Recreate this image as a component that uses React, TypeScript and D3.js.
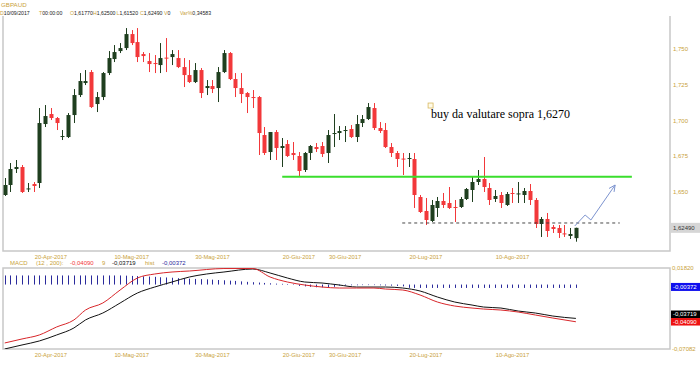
import React from 'react';
import * as d3 from 'd3';

// GBPAUD daily candles, 10-Apr-2017 onward
const opens = [
  1.6479, 1.6549, 1.6661, 1.6675, 1.6521, 1.6556, 1.6563, 1.6976, 1.7046, 1.7018,
  1.6885, 1.6885, 1.7039, 1.7179, 1.7263, 1.7340, 1.7116, 1.7165, 1.7333, 1.7431,
  1.7487, 1.7508, 1.7606, 1.7550, 1.7466, 1.7417, 1.7403, 1.7389, 1.7441, 1.7445,
  1.7438, 1.7375, 1.7319, 1.7270, 1.7354, 1.7228, 1.7242, 1.7228, 1.7340, 1.7473,
  1.7291, 1.7228, 1.7193, 1.7165, 1.7165, 1.6899, 1.6780, 1.6920, 1.6808, 1.6836,
  1.6773, 1.6752, 1.6654, 1.6773, 1.6815, 1.6822, 1.6773, 1.6906, 1.6913, 1.6931,
  1.6941, 1.6885, 1.6983, 1.7011, 1.7088, 1.6948, 1.6934, 1.6815, 1.6773, 1.6734,
  1.6731, 1.6731, 1.6465, 1.6367, 1.6297, 1.6388, 1.6437, 1.6423, 1.6395, 1.6395,
  1.6451, 1.6514, 1.6570, 1.6591, 1.6528, 1.6451, 1.6479, 1.6409, 1.6493, 1.6486,
  1.6479, 1.6507, 1.6444, 1.6276, 1.6311, 1.6255, 1.6248, 1.6210, 1.6192, 1.6177,
];
const highs = [
  1.6598, 1.6703, 1.6724, 1.6689, 1.6563, 1.6570, 1.7088, 1.7109, 1.7088, 1.7025,
  1.6934, 1.7053, 1.7221, 1.7333, 1.7354, 1.7354, 1.7200, 1.7340, 1.7487, 1.7529,
  1.7543, 1.7648, 1.7634, 1.7648, 1.7480, 1.7473, 1.7459, 1.7543, 1.7578, 1.7494,
  1.7494, 1.7438, 1.7424, 1.7403, 1.7368, 1.7284, 1.7284, 1.7375, 1.7494, 1.7480,
  1.7333, 1.7333, 1.7200, 1.7214, 1.7172, 1.6955, 1.6920, 1.6934, 1.6878, 1.6864,
  1.6850, 1.6780, 1.6780, 1.6829, 1.6843, 1.6850, 1.6934, 1.7046, 1.6962, 1.6962,
  1.6969, 1.7039, 1.7039, 1.7123, 1.7123, 1.6990, 1.6983, 1.6843, 1.6787, 1.6773,
  1.6773, 1.6773, 1.6479, 1.6458, 1.6444, 1.6465, 1.6493, 1.6535, 1.6444, 1.6465,
  1.6528, 1.6605, 1.6654, 1.6745, 1.6563, 1.6514, 1.6500, 1.6500, 1.6528, 1.6570,
  1.6528, 1.6556, 1.6458, 1.6325, 1.6353, 1.6269, 1.6269, 1.6269, 1.6248, 1.6250,
];
const lows = [
  1.6472, 1.6500, 1.6633, 1.6493, 1.6500, 1.6500, 1.6528, 1.6955, 1.7004, 1.6934,
  1.6864, 1.6878, 1.6983, 1.7165, 1.7249, 1.7088, 1.7060, 1.7144, 1.7319, 1.7410,
  1.7473, 1.7494, 1.7529, 1.7410, 1.7410, 1.7340, 1.7333, 1.7333, 1.7340, 1.7389,
  1.7368, 1.7235, 1.7263, 1.7263, 1.7158, 1.7179, 1.7193, 1.7130, 1.7333, 1.7284,
  1.7165, 1.7123, 1.7053, 1.7088, 1.6759, 1.6759, 1.6724, 1.6724, 1.6675, 1.6745,
  1.6724, 1.6612, 1.6640, 1.6724, 1.6780, 1.6745, 1.6703, 1.6815, 1.6864, 1.6850,
  1.6878, 1.6850, 1.6955, 1.7004, 1.6934, 1.6913, 1.6808, 1.6745, 1.6675, 1.6619,
  1.6675, 1.6388, 1.6353, 1.6269, 1.6290, 1.6325, 1.6388, 1.6381, 1.6290, 1.6388,
  1.6444, 1.6430, 1.6549, 1.6500, 1.6409, 1.6430, 1.6388, 1.6402, 1.6423, 1.6423,
  1.6423, 1.6409, 1.6248, 1.6185, 1.6185, 1.6213, 1.6178, 1.6185, 1.6171, 1.6152,
];
const closes = [
  1.6549, 1.6661, 1.6675, 1.6500, 1.6525, 1.6542, 1.6983, 1.7032, 1.7018, 1.6983,
  1.6892, 1.7039, 1.7179, 1.7277, 1.7277, 1.7095, 1.7165, 1.7333, 1.7438, 1.7480,
  1.7508, 1.7606, 1.7543, 1.7445, 1.7452, 1.7396, 1.7400, 1.7438, 1.7435, 1.7466,
  1.7375, 1.7319, 1.7270, 1.7354, 1.7193, 1.7242, 1.7221, 1.7340, 1.7473, 1.7291,
  1.7228, 1.7186, 1.7165, 1.7158, 1.6913, 1.6773, 1.6920, 1.6808, 1.6822, 1.6752,
  1.6759, 1.6647, 1.6773, 1.6822, 1.6801, 1.6766, 1.6899, 1.6913, 1.6927, 1.6934,
  1.6885, 1.6976, 1.7011, 1.7095, 1.6948, 1.6927, 1.6815, 1.6773, 1.6731, 1.6731,
  1.6738, 1.6479, 1.6360, 1.6304, 1.6409, 1.6437, 1.6409, 1.6388, 1.6392, 1.6451,
  1.6521, 1.6570, 1.6591, 1.6535, 1.6444, 1.6472, 1.6423, 1.6486, 1.6486, 1.6490,
  1.6507, 1.6444, 1.6276, 1.6311, 1.6227, 1.6241, 1.6213, 1.6206, 1.6206, 1.6249,
];

// MACD histogram, one bar per candle
const histValues = [
  0.0100, 0.0100, 0.0100, 0.0100, 0.0100, 0.0100, 0.0100, 0.0100, 0.0100, 0.0100,
  0.0100, 0.0100, 0.0100, 0.0100, 0.0100, 0.0100, 0.0100, 0.0100, 0.0100, 0.0100,
  0.0100, 0.0098, 0.0095, 0.0093, 0.0090, 0.0088, 0.0085, 0.0080, 0.0078, 0.0075,
  0.0070, 0.0068, 0.0065, 0.0062, 0.0060, 0.0057, 0.0054, 0.0050, 0.0047, 0.0043,
  0.0040, 0.0035, 0.0030, 0.0026, 0.0022, 0.0018, 0.0014, 0.0010, 0.0008, 0.0006,
  0.0005, -0.0015, -0.0020, -0.0025, -0.0030, -0.0030, -0.0028, -0.0025, -0.0012, -0.0010,
  -0.0008, -0.0008, -0.0006, -0.0006, -0.0006, -0.0008, -0.0010, -0.0012, -0.0015, -0.0020,
  -0.0036, -0.0037, -0.0037, -0.0037, -0.0037, -0.0037, -0.0037, -0.0037, -0.0037, -0.0037,
  -0.0037, -0.0037, -0.0037, -0.0037, -0.0037, -0.0037, -0.0037, -0.0037, -0.0037, -0.0037,
  -0.0037, -0.0037, -0.0037, -0.0037, -0.0037, -0.0037, -0.0037, -0.0037, -0.0037, -0.0037,
];

// MACD (red) and signal (black) lines: [candle index, value]
const macdPoints: [number, number][] = [
  [0, -0.0642], [3, -0.0598], [6, -0.0554], [9, -0.0466], [12, -0.0389], [14, -0.0280],
  [17, -0.0203], [20, -0.0060], [23, 0.0072], [26, 0.0116], [29, 0.0138], [32, 0.0149],
  [38, 0.0176], [43, 0.0176], [46, 0.0083], [49, 0.0028], [52, -0.0005], [55, -0.0027],
  [58, -0.0038], [61, -0.0038], [64, -0.0038], [66, -0.0049], [69, -0.0060], [72, -0.0115],
  [75, -0.0192], [78, -0.0236], [81, -0.0258], [83, -0.0269], [86, -0.0280], [89, -0.0302],
  [92, -0.0335], [95, -0.0368], [99, -0.0409],
];
const signalPoints: [number, number][] = [
  [0, -0.0708], [3, -0.0664], [6, -0.0620], [9, -0.0554], [12, -0.0477], [14, -0.0389],
  [17, -0.0313], [20, -0.0203], [23, -0.0093], [26, -0.0027], [29, 0.0028], [32, 0.0083],
  [35, 0.0116], [38, 0.0138], [43, 0.0171], [46, 0.0127], [49, 0.0072], [52, 0.0028],
  [55, 0.0017], [58, -0.0005], [61, -0.0027], [64, -0.0027], [66, -0.0027], [69, -0.0038],
  [72, -0.0071], [75, -0.0137], [78, -0.0192], [81, -0.0225], [83, -0.0247], [86, -0.0258],
  [89, -0.0291], [92, -0.0313], [95, -0.0346], [99, -0.03719],
];

const dateTicks = ['2017-04-20', '2017-05-10', '2017-05-30', '2017-06-20', '2017-06-30', '2017-07-20', '2017-08-10'];
const priceTicks = [1.65, 1.675, 1.7, 1.725, 1.75];
const lastPrice = 1.6249;
const macdExtent = [-0.07082, 0.0182];
const macdValue = -0.0409;
const signalValue = -0.03719;
const histValue = -0.00372;

// drawn annotations, in candle index / price
const greenLine = { from: 48.1, to: 108.7, price: 1.6607 };
const dashedLine = { from: 68.9, to: 106.6, price: 1.6283 };
const arrowPath: [number, number][] = [[98.8, 1.6262], [100.6, 1.6339], [101.6, 1.6304], [105.8, 1.6549]];
const note = { index: 73.9, price: 1.7018, text: 'buy da valutare sopra 1,6270' };

const headerFields = [
  ['D', '10/09/2017'], ['T', '00:00:00'], ['O', '1,61770'], ['H', '1,62500'],
  ['L', '1,61520'], ['C', '1,62490'], ['V', '0'], ['Var%', '0,34583'],
];
const headerX = [0, 39, 70, 93, 116.5, 140, 164, 180];

const gold = '#c9a23a';
const green = '#1f3f1f';
const red = '#f2383a';
const navy = '#2b2b9c';
const frame = '#c8c8c8';

const itLocale = d3.timeFormatLocale({
  dateTime: '%A %e %B %Y, %X', date: '%d/%m/%Y', time: '%H:%M:%S', periods: ['AM', 'PM'],
  days: ['Domenica', 'Lunedì', 'Martedì', 'Mercoledì', 'Giovedì', 'Venerdì', 'Sabato'],
  shortDays: ['Dom', 'Lun', 'Mar', 'Mer', 'Gio', 'Ven', 'Sab'],
  months: ['Gennaio', 'Febbraio', 'Marzo', 'Aprile', 'Maggio', 'Giugno', 'Luglio', 'Agosto', 'Settembre', 'Ottobre', 'Novembre', 'Dicembre'],
  shortMonths: ['Gen', 'Feb', 'Mar', 'Apr', 'Mag', 'Giu', 'Lug', 'Ago', 'Set', 'Ott', 'Nov', 'Dic'],
});
const numLocale = d3.formatLocale({ decimal: ',', thousands: '.', grouping: [3], currency: ['€', ''], minus: '-' });
const fmt3 = numLocale.format('.3f');
const fmt5 = numLocale.format('.5f');
const fmtDate = itLocale.format('%d-%b-%Y');
const keyDate = d3.timeFormat('%Y-%m-%d');

export default function App() {
  // trading days (weekdays) starting 10-Apr-2017
  const days = d3.timeDay
    .range(new Date(2017, 3, 10), new Date(2017, 8, 30))
    .filter((d) => d.getDay() !== 0 && d.getDay() !== 6)
    .slice(0, opens.length);

  const x = d3.scaleLinear().domain([0, opens.length - 1]).range([4.7, 575.9]);
  const y = d3.scaleLinear().domain([1.65, 1.75]).range([192, 49.2]);
  const m = d3.scaleLinear().domain(macdExtent).range([349, 268]);

  const ticks = dateTicks.map((t) => {
    const i = days.findIndex((d) => keyDate(d) === t);
    return { i, label: fmtDate(days[i]) };
  });

  const line = d3.line<[number, number]>()
    .x((d) => x(d[0]))
    .y((d) => m(d[1]))
    .curve(d3.curveMonotoneX);

  const arrowPts = arrowPath.map(([i, p]) => [x(i), y(p)]);
  const [ax1, ay1] = arrowPts[arrowPts.length - 2];
  const [ax2, ay2] = arrowPts[arrowPts.length - 1];
  const ang = Math.atan2(ay2 - ay1, ax2 - ax1);
  const head = [ang + Math.PI - 0.45, ang + Math.PI + 0.45].map((a) => [ax2 + 7 * Math.cos(a), ay2 + 7 * Math.sin(a)]);

  const redBoxY = m(macdValue);
  const blackBoxY = Math.min(m(signalValue), redBoxY - 7.5);

  return (
    <svg width={700} height={365} style={{ position: 'absolute', left: 0, top: 0, background: '#fff' }}
      fontFamily="'Liberation Sans', Arial, sans-serif">
      <defs>
        <clipPath id="macdClip"><rect x={3} y={268} width={667} height={81} /></clipPath>
      </defs>

      {/* header */}
      <text x={1} y={6.5} fontSize={6.2} fill={gold}>GBPAUD</text>
      {headerFields.map(([k, v], idx) => (
        <text key={k} x={headerX[idx]} y={15} fontSize={5.2}>
          <tspan fill={gold}>{k}</tspan>
          <tspan fill="#222">{v}</tspan>
        </text>
      ))}

      {/* price panel frame */}
      <path d="M3,16 V251 H670 V16" fill="none" stroke={frame} strokeWidth={1.5} />

      {/* candles */}
      {opens.map((o, i) => {
        const c = closes[i];
        const up = c >= o;
        const col = up ? green : red;
        const cx = Math.round(x(i)) + 0.5;
        const top = y(Math.max(o, c));
        const bot = y(Math.min(o, c));
        return (
          <g key={i}>
            <line x1={cx} x2={cx} y1={y(highs[i])} y2={y(lows[i])} stroke={col} strokeWidth={1} />
            <rect x={cx - 2} y={top} width={4} height={Math.max(1, bot - top)} fill={col} />
          </g>
        );
      })}

      {/* annotations */}
      <line x1={x(greenLine.from)} x2={x(greenLine.to)} y1={y(greenLine.price)} y2={y(greenLine.price)}
        stroke="#3ade2c" strokeWidth={2} />
      <line x1={x(dashedLine.from)} x2={x(dashedLine.to)} y1={y(dashedLine.price)} y2={y(dashedLine.price)}
        stroke="#333" strokeWidth={0.9} strokeDasharray="3,3" />
      <polyline points={arrowPts.map((p) => p.join(',')).join(' ')} fill="none" stroke="#7c93cf" strokeWidth={1} />
      <polyline points={`${head[0].join(',')} ${ax2},${ay2} ${head[1].join(',')}`} fill="none" stroke="#7c93cf" strokeWidth={1} />
      <rect x={x(note.index) - 3} y={y(note.price) - 15} width={5} height={5} fill="#fffbe8" stroke="#d8b860" strokeWidth={0.8} />
      <text x={x(note.index)} y={y(note.price)} fontSize={12} fontFamily="'Liberation Serif', 'Times New Roman', serif" fill="#000">
        {note.text}
      </text>

      {/* price axis */}
      {priceTicks.map((p) => (
        <text key={p} x={673} y={y(p)} dy="0.35em" fontSize={6} fill={gold}>{fmt3(p)}</text>
      ))}
      <rect x={671} y={y(lastPrice) - 5} width={29} height={10} fill="#d6d6d6" />
      <text x={673} y={y(lastPrice)} dy="0.35em" fontSize={6} fill="#333">{numLocale.format('.5f')(lastPrice)}</text>

      {/* date labels */}
      {ticks.map((t) => (
        <g key={t.label}>
          <text x={x(t.i)} y={257} dy="0.35em" textAnchor="middle" fontSize={5.8} fill={gold}>{t.label}</text>
          <text x={x(t.i)} y={355} dy="0.35em" textAnchor="middle" fontSize={5.8} fill={gold}>{t.label}</text>
        </g>
      ))}

      {/* MACD legend */}
      <text y={263} dy="0.35em" fontSize={6}>
        <tspan x={10} fill={gold}>MACD</tspan>
        <tspan x={36} fill={gold}>(12 , 200):</tspan>
        <tspan x={70} fill={red}>{fmt5(macdValue)}</tspan>
        <tspan x={102} fill={gold}>9</tspan>
        <tspan x={112} fill="#111">{fmt5(signalValue)}</tspan>
        <tspan x={145} fill={gold}>hist</tspan>
        <tspan x={162} fill={navy}>{fmt5(histValue)}</tspan>
      </text>

      {/* MACD panel */}
      <rect x={3} y={268} width={667} height={81} fill="none" stroke={frame} strokeWidth={1.5} />
      <g clipPath="url(#macdClip)">
        {histValues.map((v, i) => {
          const cx = Math.round(x(i)) + 0.5;
          return <line key={i} x1={cx} x2={cx} y1={m(0)} y2={m(v)} stroke={navy} strokeWidth={1} />;
        })}
        <path d={line(signalPoints) || ''} fill="none" stroke="#111" strokeWidth={1} />
        <path d={line(macdPoints) || ''} fill="none" stroke="#d8262a" strokeWidth={1} />
      </g>

      {/* MACD axis */}
      <text x={672} y={268} dy="0.35em" fontSize={6} fill={gold}>{fmt5(macdExtent[1])}</text>
      <text x={672} y={349} dy="0.35em" fontSize={6} fill={gold}>{fmt5(macdExtent[0])}</text>
      <rect x={671} y={m(histValue) - 5} width={29} height={8} fill="#1010ee" />
      <text x={673} y={m(histValue) - 1} dy="0.35em" fontSize={6} fill="#fff">{fmt5(histValue)}</text>
      <rect x={671} y={blackBoxY - 3.75} width={29} height={7.5} fill="#000" />
      <text x={673} y={blackBoxY} dy="0.35em" fontSize={6} fill="#fff">{fmt5(signalValue)}</text>
      <rect x={671} y={redBoxY - 3.75} width={29} height={7.5} fill="#ee1111" />
      <text x={673} y={redBoxY} dy="0.35em" fontSize={6} fill="#fff">{fmt5(macdValue)}</text>
    </svg>
  );
}
